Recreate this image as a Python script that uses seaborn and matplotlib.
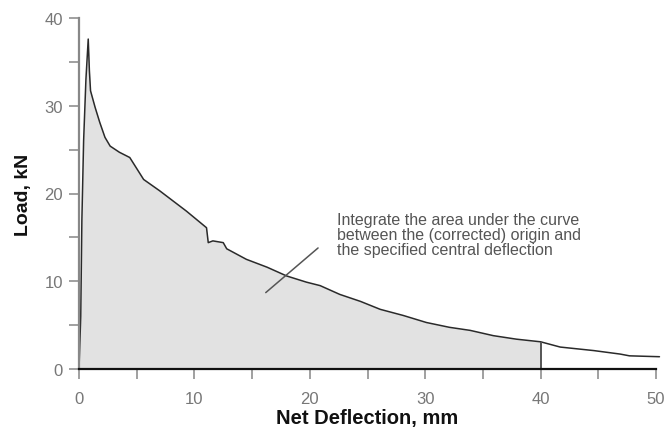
import numpy as np
import pandas as pd
import matplotlib
matplotlib.use("Agg")
import matplotlib.pyplot as plt
import seaborn as sns
from matplotlib.ticker import MultipleLocator

# Data
deflection = [0, 0.15, 0.25, 0.4, 0.6, 0.8, 0.9, 1.0, 1.4, 1.8, 2.25, 2.7, 3.5, 4.4,
              5.6, 7.0, 9.3, 11.05, 11.2, 11.6, 12.5, 12.8, 14.5, 16.3, 18.0, 19.7,
              20.9, 22.6, 24.4, 26.1, 28.1, 30.1, 32.1, 33.9, 35.9, 37.9, 40.0, 41.7,
              44.6, 46.9, 47.7, 50.3]
load = [0, 6, 17, 26, 33, 37.6, 34, 31.7, 29.8, 28.1, 26.4, 25.4, 24.7, 24.1,
        21.6, 20.3, 18.0, 16.1, 14.4, 14.6, 14.4, 13.7, 12.5, 11.6, 10.6, 9.9,
        9.5, 8.5, 7.7, 6.8, 6.1, 5.3, 4.75, 4.4, 3.8, 3.4, 3.1, 2.5,
        2.1, 1.7, 1.5, 1.4]
specified_deflection = 40
x_ticks = [0, 10, 20, 30, 40, 50]
y_ticks = [0, 10, 20, 30, 40]
annotation = ("Integrate the area under the curve\n"
              "between the (corrected) origin and\n"
              "the specified central deflection")

df = pd.DataFrame({"deflection": deflection, "load": load})

sns.set_style("white")
plt.rcParams['font.family'] = ['Liberation Sans', 'DejaVu Sans']

fig = plt.figure(figsize=(6.67, 4.31), dpi=100)
ax = fig.add_axes([79/667, 61/431, (656-79)/667, (370-19)/431])

xs = np.array(deflection)
ys = np.array(load)
ax.fill_between(xs, ys, 0, where=xs <= specified_deflection, color="#e2e2e2",
                linewidth=0, interpolate=False)
sns.lineplot(data=df, x="deflection", y="load", ax=ax, sort=False, estimator=None,
             color="#2a2a2a", linewidth=1.1, clip_on=False)
ax.vlines(specified_deflection, 0, np.interp(specified_deflection, xs, ys),
          color="#555555", linewidth=1.4)

ax.set_xlim(0, 50)
ax.set_ylim(0, 40)
ax.set_xticks(x_ticks)
ax.set_yticks(y_ticks)
ax.xaxis.set_minor_locator(MultipleLocator(5))
ax.yaxis.set_minor_locator(MultipleLocator(5))

for side in ["top", "right"]:
    ax.spines[side].set_visible(False)
ax.spines["bottom"].set_color("#111111")
ax.spines["bottom"].set_linewidth(1.6)
ax.spines["left"].set_color("#888888")
ax.spines["left"].set_linewidth(1.6)

ax.tick_params(axis="x", which="both", direction="out", length=7, width=1.3,
               color="#999999", pad=9, labelsize=12, labelcolor="#777777", bottom=True)
ax.tick_params(axis="y", which="both", direction="out", length=7.5, width=1.3,
               color="#999999", pad=4, labelsize=12, labelcolor="#777777", left=True)

ax.set_xlabel("Net Deflection, mm", fontsize=14.5, fontweight="bold", color="#111111",
              labelpad=1)
ax.set_ylabel("Load, kN", fontsize=14, fontweight="bold", color="#111111", labelpad=9)

ax.text(22.4, 17.9, annotation, fontsize=11.5, color="#555555", ha="left", va="top",
        linespacing=1.0)
ax.annotate("", xy=(16.0, 8.5), xytext=(20.9, 14.0),
            arrowprops=dict(arrowstyle="-", color="#555555", linewidth=1.1))

fig.savefig("out.png", dpi=100)
